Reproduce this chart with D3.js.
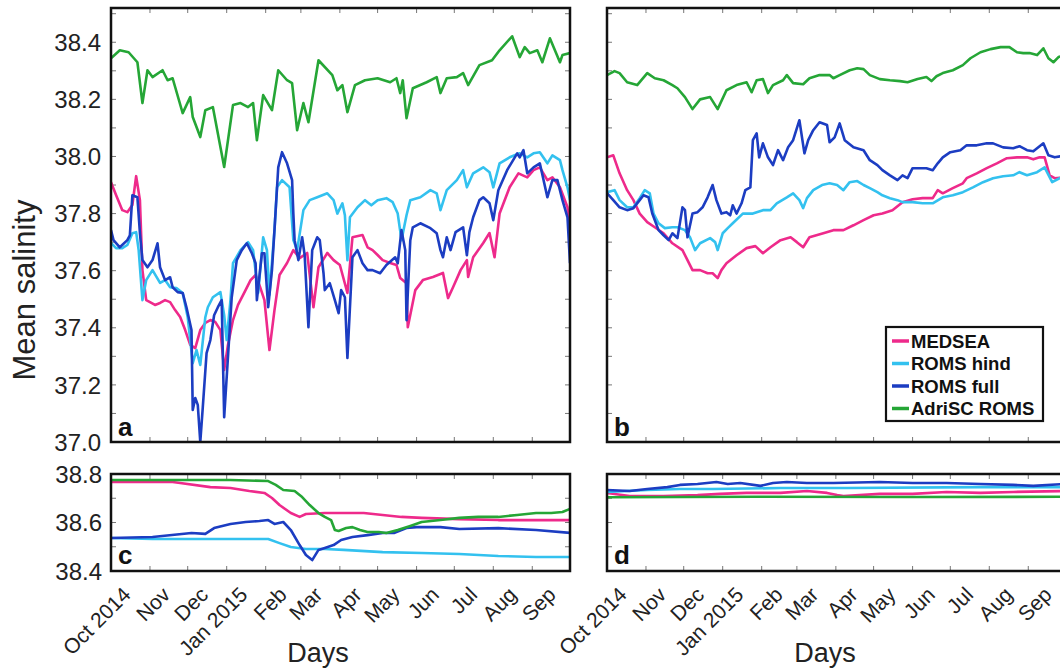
<!DOCTYPE html>
<html><head><meta charset="utf-8">
<script src="https://cdn.jsdelivr.net/npm/d3@7"></script>
<style>
body{margin:0;background:#fff}
svg{display:block}
text{font-family:"Liberation Sans",Arial,Helvetica,sans-serif;fill:#222}
</style>
</head><body>
<svg id="chart" width="1060" height="670"></svg>
<script>
// ---------- DATA ----------
const startDate = new Date(2014, 9, 1);
const endDate = new Date(2015, 9, 1);
const monthLabels = ["Oct 2014","Nov","Dec","Jan 2015","Feb","Mar","Apr","May","Jun","Jul","Aug","Sep"];
const seriesNames = ["MEDSEA","ROMS hind","ROMS full","AdriSC ROMS"];
const topTickLabels = [37.0,37.2,37.4,37.6,37.8,38.0,38.2,38.4];
const bottomTickLabels = [38.4,38.6,38.8];

// [day offset from 1 Oct 2014, mean salinity]
// Panel a
const aMedsea = [[0,37.91],[4,37.865],[9,37.812],[13,37.805],[17,37.83],[20,37.931],[23,37.847],[25,37.602],[28,37.497],[31,37.49],[35,37.48],[39,37.487],[43,37.497],[47,37.49],[51,37.462],[55,37.438],[59,37.392],[63,37.34],[67,37.329],[71,37.392],[75,37.417],[79,37.427],[83,37.42],[87,37.392],[90,37.252],[93,37.34],[97,37.427],[101,37.48],[107,37.532],[111,37.567],[115,37.585],[118,37.55],[122,37.497],[126,37.322],[130,37.462],[134,37.585],[140,37.627],[145,37.672],[150,37.644],[156,37.662],[161,37.472],[165,37.612],[172,37.662],[177,37.637],[182,37.62],[188,37.522],[192,37.717],[200,37.725],[204,37.682],[208,37.672],[212,37.655],[216,37.637],[222,37.627],[227,37.62],[230,37.574],[235,37.556],[236,37.402],[242,37.532],[248,37.567],[256,37.578],[264,37.592],[268,37.504],[272,37.542],[278,37.602],[283,37.637],[284,37.578],[288,37.647],[296,37.697],[301,37.732],[305,37.647],[309,37.80],[317,37.892],[324,37.941],[331,37.927],[336,37.952],[341,37.962],[347,37.917],[351,37.927],[357,37.892],[363,37.822],[365,37.724]];
const aHind = [[0,37.697],[4,37.679],[9,37.679],[13,37.69],[17,37.731],[20,37.735],[22,37.672],[25,37.497],[28,37.567],[33,37.602],[39,37.557],[43,37.567],[47,37.542],[52,37.539],[57,37.522],[61,37.437],[65,37.276],[68,37.322],[71,37.27],[75,37.437],[77,37.472],[81,37.507],[87,37.525],[90,37.444],[92,37.357],[95,37.497],[97,37.626],[103,37.672],[109,37.70],[113,37.672],[117,37.522],[121,37.717],[124,37.672],[126,37.515],[130,37.742],[132,37.892],[136,37.917],[142,37.892],[145,37.707],[148,37.672],[153,37.812],[158,37.847],[164,37.857],[172,37.871],[177,37.847],[180,37.80],[184,37.836],[186,37.794],[188,37.637],[190,37.787],[196,37.822],[202,37.847],[207,37.829],[212,37.847],[219,37.854],[224,37.84],[228,37.80],[231,37.707],[235,37.794],[238,37.847],[246,37.857],[254,37.882],[259,37.871],[262,37.812],[267,37.882],[275,37.917],[280,37.952],[283,37.892],[288,37.941],[296,37.962],[301,37.945],[304,37.892],[309,37.976],[317,37.997],[325,38.011],[331,37.997],[336,38.011],[341,38.015],[347,37.976],[351,38.004],[357,37.987],[359,37.952],[363,37.892],[365,37.847]];
const aFull = [[0,37.742],[2,37.707],[7,37.682],[13,37.707],[15,37.724],[17,37.864],[21,37.857],[23,37.731],[25,37.637],[29,37.612],[33,37.637],[37,37.696],[39,37.612],[43,37.567],[47,37.577],[49,37.542],[53,37.525],[57,37.522],[60,37.472],[64,37.392],[65,37.112],[67,37.154],[69,37.13],[71,37.0],[73,37.122],[76,37.311],[79,37.357],[82,37.444],[85,37.472],[88,37.497],[90,37.087],[92,37.227],[96,37.507],[100,37.637],[104,37.672],[108,37.696],[112,37.661],[115,37.626],[116,37.497],[120,37.661],[122,37.661],[125,37.472],[128,37.602],[130,37.742],[133,37.962],[136,38.015],[140,37.976],[144,37.917],[145,37.80],[146,37.707],[149,37.637],[152,37.717],[154,37.654],[157,37.402],[160,37.672],[164,37.717],[166,37.707],[169,37.591],[170,37.532],[174,37.556],[178,37.497],[181,37.451],[183,37.532],[186,37.507],[188,37.294],[192,37.647],[196,37.672],[200,37.626],[204,37.602],[208,37.602],[214,37.591],[219,37.62],[226,37.647],[228,37.626],[231,37.742],[234,37.672],[235,37.427],[238,37.707],[240,37.752],[246,37.766],[254,37.749],[259,37.731],[262,37.672],[264,37.647],[267,37.717],[270,37.672],[274,37.735],[280,37.752],[283,37.654],[285,37.735],[288,37.787],[293,37.847],[296,37.857],[301,37.836],[304,37.777],[308,37.882],[315,37.952],[323,38.011],[325,37.997],[328,38.022],[331,37.941],[336,37.962],[341,37.976],[347,37.857],[351,37.917],[355,37.917],[359,37.847],[363,37.787],[365,37.626]];
const aAdri = [[0,38.344],[7,38.372],[14,38.365],[21,38.33],[25,38.187],[29,38.302],[33,38.278],[41,38.302],[45,38.267],[49,38.274],[57,38.152],[63,38.208],[65,38.138],[71,38.068],[75,38.162],[81,38.173],[90,37.963],[97,38.18],[103,38.187],[109,38.173],[113,38.187],[116,38.057],[121,38.215],[128,38.162],[133,38.302],[140,38.267],[144,38.257],[148,38.092],[153,38.187],[157,38.12],[165,38.337],[176,38.285],[180,38.232],[184,38.25],[188,38.155],[194,38.25],[202,38.267],[212,38.274],[222,38.26],[227,38.274],[230,38.222],[232,38.267],[235,38.134],[240,38.239],[251,38.26],[259,38.278],[262,38.222],[267,38.274],[275,38.278],[280,38.292],[284,38.25],[293,38.32],[303,38.337],[309,38.372],[319,38.421],[325,38.348],[329,38.383],[333,38.362],[339,38.372],[343,38.33],[349,38.414],[357,38.33],[359,38.355],[365,38.362]];

// Panel b
const bMedsea = [[0,37.997],[5,38.004],[10,37.941],[16,37.882],[21,37.847],[26,37.80],[32,37.77],[38,37.752],[45,37.731],[52,37.696],[60,37.672],[64,37.637],[68,37.602],[74,37.602],[80,37.591],[84,37.591],[88,37.574],[91,37.602],[95,37.626],[103,37.654],[111,37.679],[118,37.686],[124,37.661],[130,37.682],[138,37.707],[146,37.717],[151,37.70],[156,37.682],[161,37.717],[172,37.731],[180,37.742],[188,37.742],[196,37.759],[204,37.777],[212,37.794],[219,37.80],[227,37.812],[235,37.84],[243,37.85],[251,37.854],[259,37.854],[263,37.882],[267,37.871],[275,37.889],[283,37.906],[286,37.924],[294,37.941],[302,37.959],[310,37.976],[318,37.994],[326,37.997],[334,37.997],[339,37.99],[344,37.997],[348,37.997],[352,37.934],[356,37.924],[365,37.927]];
const bHind = [[0,37.875],[6,37.882],[10,37.847],[16,37.822],[21,37.822],[26,37.854],[30,37.882],[34,37.871],[37,37.80],[41,37.766],[46,37.749],[52,37.752],[56,37.752],[62,37.742],[66,37.717],[70,37.672],[74,37.696],[82,37.714],[86,37.70],[88,37.672],[92,37.731],[96,37.749],[100,37.766],[108,37.80],[116,37.80],[124,37.812],[130,37.812],[135,37.836],[143,37.857],[148,37.871],[153,37.847],[156,37.819],[159,37.854],[164,37.882],[171,37.90],[177,37.906],[183,37.90],[188,37.882],[193,37.91],[199,37.914],[204,37.90],[209,37.889],[215,37.875],[219,37.864],[225,37.854],[231,37.847],[235,37.84],[243,37.84],[251,37.836],[259,37.836],[267,37.857],[275,37.864],[283,37.875],[291,37.892],[299,37.91],[307,37.924],[315,37.931],[323,37.934],[328,37.945],[334,37.934],[342,37.945],[348,37.962],[354,37.91],[360,37.924],[365,37.924]];
const bFull = [[0,37.872],[5,37.847],[10,37.822],[16,37.812],[21,37.819],[26,37.847],[29,37.864],[33,37.857],[36,37.80],[41,37.742],[45,37.724],[49,37.707],[52,37.731],[56,37.714],[60,37.822],[62,37.812],[64,37.717],[68,37.80],[72,37.805],[76,37.822],[80,37.857],[84,37.90],[87,37.847],[91,37.80],[95,37.805],[98,37.794],[100,37.829],[103,37.80],[107,37.836],[110,37.882],[114,37.892],[116,38.057],[119,38.081],[121,37.997],[124,38.046],[128,37.997],[132,37.97],[136,38.022],[140,37.987],[144,38.032],[148,38.057],[153,38.127],[157,38.011],[160,38.057],[164,38.092],[169,38.12],[175,38.11],[177,38.05],[181,38.067],[185,38.116],[189,38.057],[196,38.032],[204,38.022],[209,37.987],[215,37.97],[219,37.952],[225,37.934],[231,37.917],[235,37.934],[239,37.924],[243,37.959],[249,37.959],[254,37.959],[259,37.952],[263,37.976],[267,37.997],[273,38.015],[281,38.022],[286,38.039],[294,38.039],[302,38.046],[307,38.046],[315,38.032],[323,38.029],[328,38.036],[334,38.022],[339,38.018],[347,38.046],[351,38.004],[356,37.997],[365,38.004]];
const bAdri = [[0,38.285],[6,38.299],[10,38.292],[16,38.26],[24,38.25],[32,38.292],[38,38.274],[45,38.267],[52,38.25],[56,38.239],[62,38.208],[68,38.166],[74,38.20],[82,38.208],[88,38.166],[95,38.232],[103,38.25],[111,38.26],[115,38.225],[119,38.267],[124,38.271],[128,38.222],[132,38.25],[140,38.267],[143,38.285],[148,38.257],[156,38.253],[161,38.274],[169,38.285],[177,38.285],[180,38.274],[185,38.285],[193,38.302],[199,38.309],[204,38.306],[209,38.285],[217,38.271],[225,38.267],[233,38.264],[239,38.26],[247,38.271],[254,38.278],[258,38.264],[262,38.281],[267,38.292],[275,38.302],[283,38.32],[289,38.344],[297,38.365],[305,38.376],[313,38.383],[320,38.383],[326,38.365],[331,38.362],[336,38.362],[342,38.355],[347,38.379],[351,38.344],[355,38.33],[359,38.348],[365,38.355]];

// Panel c
const cMedsea = [[0,38.767],[49,38.767],[55,38.763],[79,38.746],[95,38.742],[110,38.73],[122,38.722],[128,38.701],[134,38.672],[143,38.639],[150,38.623],[155,38.635],[170,38.639],[201,38.639],[216,38.631],[231,38.623],[247,38.619],[277,38.614],[308,38.61],[338,38.61],[365,38.61]];
const cHind = [[0,38.536],[33,38.532],[95,38.532],[125,38.532],[134,38.515],[143,38.499],[155,38.491],[170,38.491],[185,38.487],[216,38.478],[247,38.474],[277,38.47],[308,38.462],[338,38.458],[365,38.458]];
const cFull = [[0,38.536],[33,38.54],[64,38.557],[75,38.553],[82,38.577],[95,38.594],[107,38.602],[118,38.606],[125,38.61],[130,38.594],[137,38.602],[143,38.569],[150,38.507],[155,38.466],[160,38.445],[165,38.487],[170,38.495],[177,38.507],[183,38.528],[192,38.54],[204,38.548],[216,38.557],[225,38.557],[235,38.577],[243,38.581],[262,38.581],[277,38.573],[308,38.577],[338,38.569],[365,38.557]];
const cAdri = [[0,38.775],[95,38.775],[125,38.771],[131,38.755],[137,38.734],[146,38.73],[152,38.705],[158,38.672],[165,38.639],[170,38.623],[175,38.61],[178,38.569],[181,38.565],[187,38.577],[192,38.581],[198,38.569],[204,38.561],[213,38.561],[219,38.557],[228,38.569],[238,38.586],[247,38.602],[262,38.61],[277,38.619],[292,38.623],[308,38.623],[323,38.631],[338,38.639],[350,38.639],[359,38.643],[365,38.656]];

// Panel d
const dMedsea = [[0,38.722],[18,38.709],[45,38.709],[72,38.713],[90,38.718],[111,38.722],[138,38.722],[159,38.73],[175,38.722],[183,38.713],[188,38.709],[217,38.718],[243,38.718],[270,38.726],[297,38.722],[323,38.726],[365,38.73]];
const dHind = [[0,38.726],[32,38.734],[58,38.738],[84,38.738],[138,38.742],[191,38.742],[297,38.746],[365,38.746]];
const dFull = [[0,38.734],[18,38.73],[32,38.738],[48,38.746],[58,38.755],[72,38.759],[87,38.767],[96,38.759],[106,38.763],[122,38.751],[132,38.763],[143,38.767],[159,38.763],[180,38.763],[217,38.767],[243,38.763],[270,38.763],[297,38.759],[323,38.755],[339,38.751],[365,38.759]];
const dAdri = [[0,38.704],[120,38.706],[240,38.705],[365,38.706]];

// ---------- STYLE ----------
const colors = {"MEDSEA":"#ee2a8b","ROMS hind":"#33c1ef","ROMS full":"#1c3dc2","AdriSC ROMS":"#25a636"};

// ---------- DRAW ----------
const svg = d3.select("#chart");
const dayToDate = d => d3.timeDay.offset(startDate, d);

const yTop = d3.scaleLinear().domain([37.0, 38.52]).range([442, 8]);
const yBot = d3.scaleLinear().domain([38.4, 38.8]).range([571, 474]);
const xLeft = d3.scaleTime().domain([startDate, endDate]).range([111, 570]);
const xRight = d3.scaleTime().domain([startDate, endDate]).range([607, 1066]);

const panels = [
  {id:"a", x:xLeft, y:yTop, data:[aMedsea,aHind,aFull,aAdri], yt:d3.range(37.1,38.55,0.1)},
  {id:"b", x:xRight, y:yTop, data:[bMedsea,bHind,bFull,bAdri], yt:d3.range(37.1,38.55,0.1)},
  {id:"c", x:xLeft, y:yBot, data:[cMedsea,cHind,cFull,cAdri], yt:[38.5,38.6,38.7]},
  {id:"d", x:xRight, y:yBot, data:[dMedsea,dHind,dFull,dAdri], yt:[38.5,38.6,38.7]}
];

const months = d3.timeMonth.range(startDate, endDate);

panels.forEach((p) => {
  const [x0, x1] = p.x.range();
  const [yb, yt] = p.y.range();
  const g = svg.append("g");
  g.append("clipPath").attr("id", "clip" + p.id)
    .append("rect").attr("x", x0).attr("y", yt).attr("width", x1 - x0).attr("height", yb - yt);

  // tick marks (inward)
  const tk = g.append("g").attr("stroke", "#777").attr("stroke-width", 1);
  months.slice(1).forEach(m => {
    const xx = p.x(m);
    tk.append("line").attr("x1", xx).attr("x2", xx).attr("y1", yb).attr("y2", yb - 5);
    tk.append("line").attr("x1", xx).attr("x2", xx).attr("y1", yt).attr("y2", yt + 5);
  });
  p.yt.forEach(v => {
    const yy = p.y(v);
    tk.append("line").attr("x1", x0).attr("x2", x0 + 5).attr("y1", yy).attr("y2", yy);
    tk.append("line").attr("x1", x1).attr("x2", x1 - 5).attr("y1", yy).attr("y2", yy);
  });

  // series lines
  const line = d3.line().x(d => p.x(dayToDate(d[0]))).y(d => p.y(d[1]));
  const lg = g.append("g").attr("clip-path", `url(#clip${p.id})`);
  [0, 1, 2, 3].forEach(i => {
    lg.append("path").datum(p.data[i])
      .attr("d", line)
      .attr("fill", "none")
      .attr("stroke", colors[seriesNames[i]])
      .attr("stroke-width", 2.6)
      .attr("stroke-linejoin", "round");
  });

  // frame
  g.append("rect").attr("x", x0).attr("y", yt).attr("width", x1 - x0).attr("height", yb - yt)
    .attr("fill", "none").attr("stroke", "#111").attr("stroke-width", 2.5);

  // panel letter
  g.append("text").attr("x", x0 + 7).attr("y", p.id === "a" || p.id === "b" ? 436 : 564)
    .attr("font-size", 26).attr("font-weight", "bold").style("fill", "#111").text(p.id);
});

// y tick labels
svg.append("g").selectAll("text").data(topTickLabels).join("text")
  .attr("x", 101).attr("y", d => yTop(d)).attr("dy", "0.36em")
  .attr("text-anchor", "end").attr("font-size", 24)
  .text(d => d.toFixed(1));
svg.append("g").selectAll("text").data(bottomTickLabels).join("text")
  .attr("x", 102).attr("y", d => yBot(d)).attr("dy", "0.36em")
  .attr("text-anchor", "end").attr("font-size", 24)
  .text(d => d.toFixed(1));

// x tick labels (rotated) under c and d
[xLeft, xRight].forEach(xs => {
  svg.append("g").selectAll("text").data(months).join("text")
    .attr("text-anchor", "end").attr("font-size", 21)
    .attr("transform", (m, i) => `translate(${xs(m) + 21 + i * 0.35},596) rotate(-45)`)
    .text((m, i) => monthLabels[i]);
});

// axis titles
svg.append("text").attr("transform", "translate(35,290) rotate(-90)")
  .attr("text-anchor", "middle").attr("font-size", 31).text("Mean salinity");
svg.append("text").attr("x", 318).attr("y", 662).attr("text-anchor", "middle")
  .attr("font-size", 27).text("Days");
svg.append("text").attr("x", 825).attr("y", 662).attr("text-anchor", "middle")
  .attr("font-size", 27).text("Days");

// legend
const lgd = svg.append("g");
lgd.append("rect").attr("x", 886).attr("y", 327).attr("width", 157).attr("height", 94)
  .attr("fill", "#fff").attr("stroke", "#111").attr("stroke-width", 2.2);
seriesNames.forEach((n, i) => {
  const yy = 341 + i * 22.5;
  lgd.append("line").attr("x1", 892).attr("x2", 909).attr("y1", yy).attr("y2", yy)
    .attr("stroke", colors[n]).attr("stroke-width", 3.5);
  lgd.append("text").attr("x", 911).attr("y", yy).attr("dy", "0.36em")
    .attr("font-size", 18.5).attr("font-weight", "bold").style("fill", "#111").text(n);
});
</script>
</body></html>
